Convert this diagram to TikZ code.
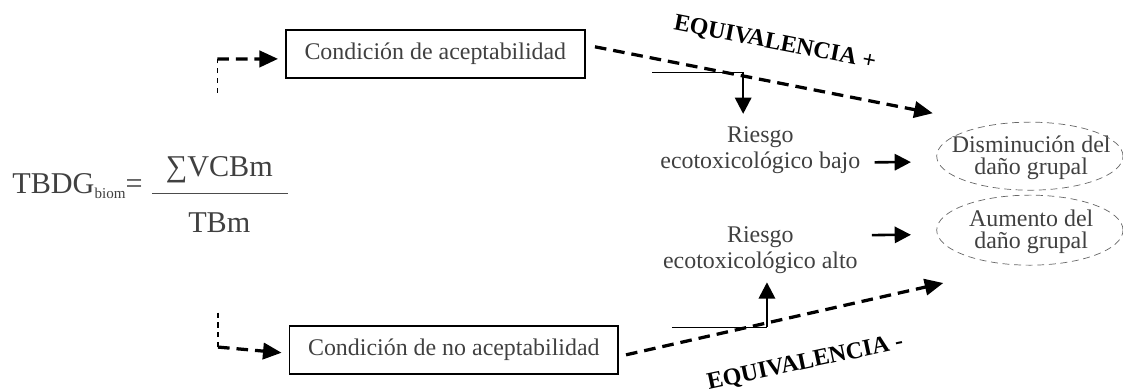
\documentclass[tikz,border=0pt]{standalone}
\usepackage{fontspec}
\setmainfont{Liberation Serif}
\usetikzlibrary{calc,arrows.meta}

\begin{document}
\begin{tikzpicture}[
        every node/.style={font=\fontsize{10.3}{11.2}\selectfont, text=black!75},
        cond/.style={draw=black, line width=0.8pt, inner xsep=8pt, minimum height=0.73cm},
        resultado/.style={align=center, inner sep=1pt},
        contorno/.style={draw=black!60, densely dashed, line width=0.3pt},
        etiqueta/.style={font=\bfseries\fontsize{10.3}{12}\selectfont, text=black, inner sep=0pt},
        formula/.style={font=\fontsize{13}{15}\selectfont, inner sep=0pt},
        flecha/.style={line width=1.4pt, dash pattern=on 5pt off 3pt, -{Triangle[length=8pt,width=7pt]}},
        guia/.style={line width=0.7pt, dash pattern=on 2.2pt off 2pt},
        riesgo/.style={line width=1.1pt, -{Triangle[length=7pt,width=7pt]}}
    ]
        \useasboundingbox (0,0) rectangle (17.0,5.934);
        % formula
        \node[formula, anchor=base west] (tbdg) at (0.18,3.01) {TBDG\raisebox{-2.5pt}{\fontsize{6.5}{7}\selectfont biom}=};
        \node[formula, anchor=base] (num) at (3.32,3.26) {∑VCBm};
        \node[formula, anchor=base] (den) at (3.32,2.42) {TBm};
        \draw[black!70, line width=0.5pt] (2.30,3.00) -- (4.36,3.00);
        % condiciones
        \node[cond] (acep) at (6.59,5.12) {Condición de aceptabilidad};
        \node[cond] (noacep) at (6.87,0.64) {Condición de no aceptabilidad};
        \coordinate (ia) at (3.29,4.53);
        \coordinate (ib) at (3.29,5.04);
        \draw[guia] (ia) -- (ib);
        \draw[flecha] (ib) -- ([shift={(-3pt,-2.2pt)}]acep.west);
        \coordinate (ic) at (3.30,1.20);
        \coordinate (id) at (3.30,0.68);
        \draw[guia] (ic) -- (id);
        \draw[flecha] (id) -- ([shift={(-3pt,-1.3pt)}]noacep.west);
        % riesgo y resultado
        \node[align=center] (bajo) at (11.51,3.66) {Riesgo\\ecotoxicológico bajo};
        \node[align=center] (alto) at (11.51,2.14) {Riesgo\\ecotoxicológico alto};
        \node[resultado] (dism) at (15.61,3.54) {Disminución del\\[-1.8pt]daño grupal};
        \node[resultado] (aum) at (15.61,2.43) {Aumento del\\[-1.8pt]daño grupal};
        \draw[contorno] (15.59,3.57) ellipse [x radius=1.41cm, y radius=0.515cm];
        \draw[contorno] (15.59,2.45) ellipse [x radius=1.41cm, y radius=0.53cm];
        \draw[riesgo] ([shift={(2.6pt,-5.2pt)}]bajo.east) -- ([shift={(-1.82cm,-0.06cm)}]dism.center);
        \draw[riesgo] ([shift={(2.6pt,6.7pt)}]alto.east) -- ([shift={(-1.82cm,-0.05cm)}]aum.center);
        % equivalencias
        \coordinate (lt1) at (9.87,4.84);
        \coordinate (lt2) at (11.25,4.84);
        \coordinate (lb1) at (10.17,0.98);
        \coordinate (lb2) at (11.61,0.98);
        \draw[line width=0.5pt] (lt1) -- (lt2);
        \draw[line width=0.5pt] (lb1) -- (lb2);
        \draw[riesgo, shorten >=2pt] (lt2) -- (lt2 |- bajo.north);
        \draw[riesgo] (lb2) -- (lb2 |- alto.south);
        \coordinate (eqtop) at (14.12,4.22);
        \coordinate (eqbot) at (14.28,1.65);
        \draw[flecha] ([shift={(4pt,3pt)}]acep.east) -- (eqtop);
        \draw[flecha] ([shift={(3pt,-2.2pt)}]noacep.east) -- (eqbot);
        \node[etiqueta, rotate=-11] (eqmas) at (11.73,5.28) {EQUIVALENCIA +};
        \node[etiqueta, rotate=12] (eqmenos) at (12.19,0.44) {EQUIVALENCIA -};
    \end{tikzpicture}
\end{document}
